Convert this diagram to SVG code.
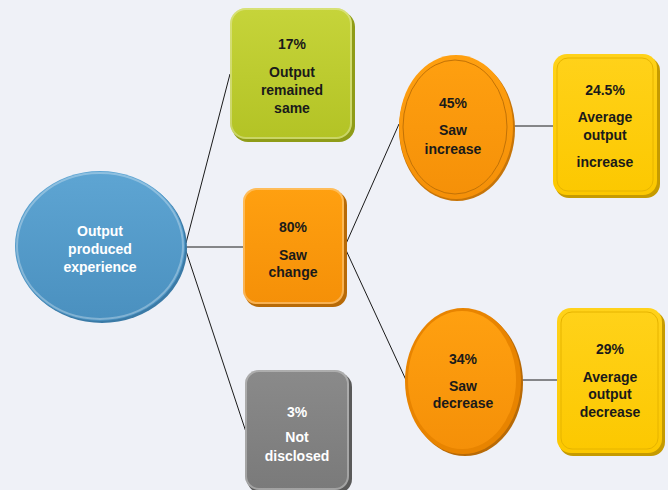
<svg xmlns="http://www.w3.org/2000/svg" width="668" height="490" viewBox="0 0 668 490">
<defs>
<style>
.t{font-family:"Liberation Sans",Arial,sans-serif;font-weight:bold;font-size:14px;text-anchor:middle;dominant-baseline:central}
.d{fill:#1a1a1a}
.w{fill:#ffffff}
.c{stroke:#1a1a1a;stroke-width:1;fill:none}
.hl{fill:none;stroke:#ffffff;stroke-opacity:0.3;stroke-width:2}
</style>
<linearGradient id="gb" x1="0" y1="0" x2="0" y2="1"><stop offset="0" stop-color="#5ea5d3"/><stop offset="1" stop-color="#4a90bf"/></linearGradient>
<linearGradient id="gg" x1="0" y1="0" x2="0" y2="1"><stop offset="0" stop-color="#c6d43a"/><stop offset="1" stop-color="#b3c325"/></linearGradient>
<linearGradient id="go" x1="0" y1="0" x2="0" y2="1"><stop offset="0" stop-color="#ffa010"/><stop offset="1" stop-color="#f59008"/></linearGradient>
<linearGradient id="gy" x1="0" y1="0" x2="0" y2="1"><stop offset="0" stop-color="#ffd21a"/><stop offset="1" stop-color="#fcc800"/></linearGradient>
<linearGradient id="gr" x1="0" y1="0" x2="0" y2="1"><stop offset="0" stop-color="#8a8a8a"/><stop offset="1" stop-color="#7a7a7a"/></linearGradient>
</defs>
<rect width="668" height="490" fill="#eff1f7"/>
<g id="connectors">
<line class="c" x1="186" y1="243" x2="230" y2="74"/>
<line class="c" x1="186" y1="247" x2="243" y2="247"/>
<line class="c" x1="186" y1="251" x2="246" y2="432"/>
<line class="c" x1="345" y1="246" x2="399" y2="124"/>
<line class="c" x1="345" y1="248" x2="406" y2="380"/>
<line class="c" x1="513" y1="126" x2="553" y2="126"/>
<line class="c" x1="521" y1="380" x2="557" y2="380"/>
</g>
<g id="n-main">
<ellipse cx="102" cy="248" rx="85" ry="75" fill="#3a7aa6"/>
<ellipse cx="100" cy="246" rx="85" ry="75" fill="url(#gb)"/>
<ellipse cx="100" cy="246" rx="83" ry="73" class="hl"/>
<text class="t w" x="100" y="231">Output</text>
<text class="t w" x="100" y="249">produced</text>
<text class="t w" x="100" y="267">experience</text>
</g>
<g id="n-same">
<rect x="232" y="11" width="123" height="131" rx="16" fill="#8f9c18"/>
<rect x="230" y="8" width="122" height="131" rx="16" fill="url(#gg)"/>
<rect x="231" y="9" width="120" height="129" rx="15" class="hl"/>
<text class="t d" x="292" y="44">17%</text>
<text class="t d" x="292" y="72">Output</text>
<text class="t d" x="292" y="90">remained</text>
<text class="t d" x="292" y="108">same</text>
</g>
<g id="n-change">
<rect x="245" y="191" width="102" height="116" rx="14" fill="#b86a06"/>
<rect x="243" y="188" width="101" height="116" rx="14" fill="url(#go)"/>
<rect x="244" y="189" width="99" height="114" rx="13" class="hl"/>
<text class="t d" x="293" y="227">80%</text>
<text class="t d" x="293" y="255">Saw</text>
<text class="t d" x="293" y="272">change</text>
</g>
<g id="n-nd">
<rect x="247" y="373" width="105" height="120" rx="14" fill="#5a5a5a"/>
<rect x="245" y="370" width="104" height="120" rx="14" fill="url(#gr)"/>
<rect x="246" y="371" width="102" height="118" rx="13" class="hl"/>
<text class="t w" x="297" y="412">3%</text>
<text class="t w" x="297" y="437">Not</text>
<text class="t w" x="297" y="456">disclosed</text>
</g>
<g id="n-inc">
<ellipse cx="457" cy="129" rx="58" ry="72" fill="#c77508"/>
<ellipse cx="456" cy="127" rx="57" ry="72" fill="url(#go)"/>
<ellipse cx="455" cy="127" rx="52" ry="67" fill="none" stroke="#c27206" stroke-width="1"/>
<text class="t d" x="453" y="103">45%</text>
<text class="t d" x="453" y="130">Saw</text>
<text class="t d" x="453" y="149">increase</text>
</g>
<g id="n-avginc">
<rect x="555" y="57" width="105" height="141" rx="14" fill="#c69b00"/>
<rect x="553" y="54" width="104" height="141" rx="14" fill="url(#gy)"/>
<rect x="557" y="58" width="96" height="133" rx="11" fill="none" stroke="#e6b400" stroke-width="1"/>
<text class="t d" x="605" y="90">24.5%</text>
<text class="t d" x="605" y="117">Average</text>
<text class="t d" x="605" y="135">output</text>
<text class="t d" x="605" y="162">increase</text>
</g>
<g id="n-dec">
<ellipse cx="465" cy="383" rx="58" ry="73" fill="#b86a06"/>
<ellipse cx="463" cy="381" rx="58" ry="73" fill="#e88400"/>
<ellipse cx="462" cy="380" rx="54" ry="69" fill="url(#go)"/>
<text class="t d" x="463" y="359">34%</text>
<text class="t d" x="463" y="386">Saw</text>
<text class="t d" x="463" y="403">decrease</text>
</g>
<g id="n-avgdec">
<rect x="559" y="311" width="106" height="145" rx="14" fill="#c69b00"/>
<rect x="557" y="308" width="105" height="145" rx="14" fill="url(#gy)"/>
<rect x="561" y="312" width="97" height="137" rx="11" fill="none" stroke="#e6b400" stroke-width="1"/>
<text class="t d" x="610" y="349">29%</text>
<text class="t d" x="610" y="377">Average</text>
<text class="t d" x="610" y="394">output</text>
<text class="t d" x="610" y="412">decrease</text>
</g>
</svg>
